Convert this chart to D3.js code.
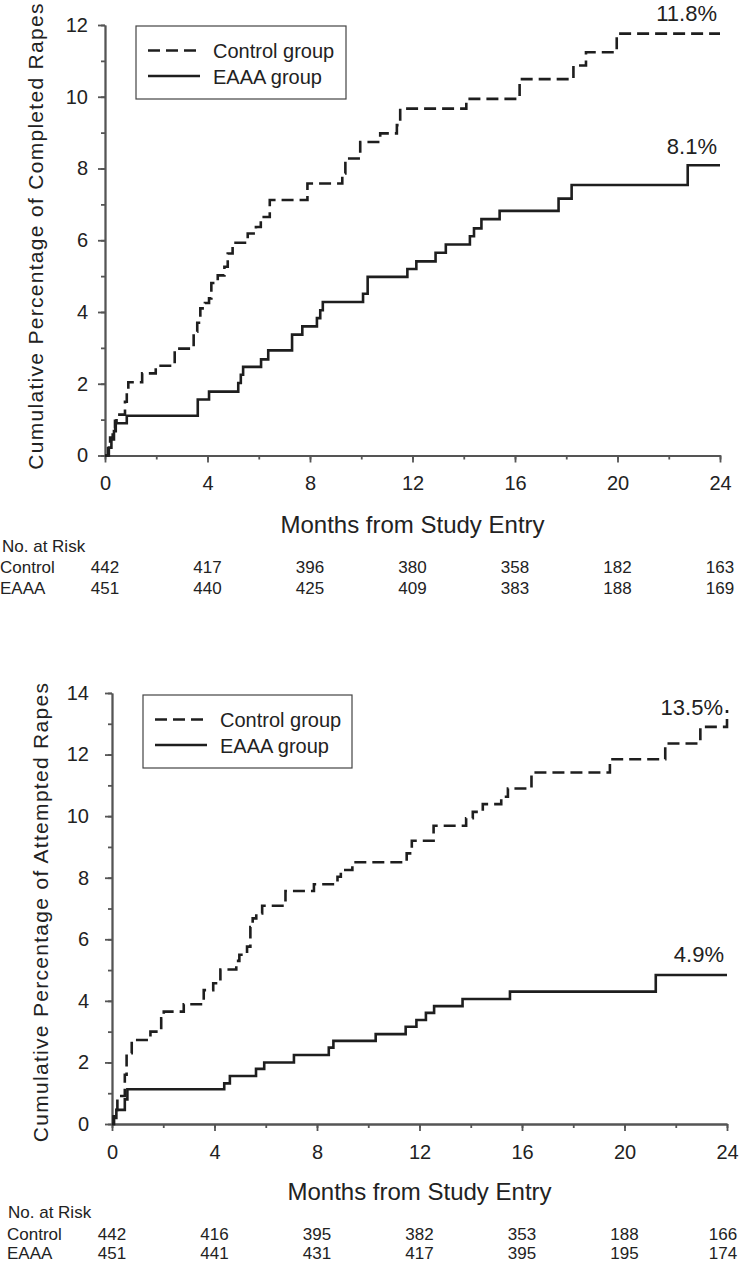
<!DOCTYPE html>
<html>
<head>
<meta charset="utf-8">
<script src="https://cdn.jsdelivr.net/npm/d3@7"></script>
<style>
  html, body { margin: 0; padding: 0; background: #fff; }
  svg { display: block; }
  text { font-family: "Liberation Sans", Arial, Helvetica, sans-serif; fill: #222; }
</style>
</head>
<body>
<svg id="chart" width="742" height="1263"></svg>
<script>
// ---------------- DATA ----------------
const riskMonths = [0, 4, 8, 12, 16, 20, 24];
const seriesNames = ["Control group", "EAAA group"];
const rowNames = ["Control", "EAAA"];

// Panel 1: completed rapes (time in months, cumulative %)
const p1ControlT = [0, 0.12, 0.2, 0.3, 0.39, 0.45, 0.78, 0.85, 0.91, 1.45, 1.98, 2.72, 3.46, 3.6, 3.72, 3.9, 4.06, 4.15, 4.4, 4.66, 4.79, 4.98, 5.57, 5.89, 6.08, 6.43, 7.9, 9.26, 9.38, 9.96, 10.74, 11.39, 11.52, 14.1, 16.18, 18.28, 18.77, 19.97, 24];
const p1ControlV = [0, 0.2, 0.5, 0.75, 0.97, 1.14, 1.5, 1.8, 2.04, 2.29, 2.5, 2.98, 3.45, 3.7, 4.1, 4.25, 4.38, 4.81, 5.02, 5.26, 5.63, 5.93, 6.19, 6.37, 6.65, 7.12, 7.58, 7.86, 8.28, 8.74, 8.98, 9.21, 9.67, 9.94, 10.49, 10.87, 11.24, 11.76, 11.76];
const p1EaaaT = [0, 0.15, 0.25, 0.35, 0.42, 0.85, 3.62, 4.06, 5.2, 5.3, 5.39, 6.09, 6.37, 7.3, 7.7, 8.27, 8.4, 8.5, 10.07, 10.25, 11.8, 12.15, 12.9, 13.3, 14.24, 14.4, 14.69, 15.4, 17.7, 18.21, 22.74, 24];
const p1EaaaV = [0, 0.22, 0.45, 0.68, 0.9, 1.11, 1.56, 1.78, 2.02, 2.25, 2.47, 2.68, 2.93, 3.37, 3.6, 3.83, 4.05, 4.28, 4.51, 4.98, 5.2, 5.41, 5.65, 5.88, 6.11, 6.33, 6.59, 6.82, 7.16, 7.54, 8.09, 8.09];
const p1RiskControl = [442, 417, 396, 380, 358, 182, 163];
const p1RiskEaaa = [451, 440, 425, 409, 383, 188, 169];
const p1EndLabels = ["11.8%", "8.1%"];
const p1YTitle = "Cumulative Percentage of Completed Rapes";
const p1YMax = 12;

// Panel 2: attempted rapes
const p2ControlT = [0, 0.06, 0.12, 0.21, 0.5, 0.57, 0.77, 1.5, 1.92, 2.02, 2.8, 3.58, 3.95, 4.23, 4.85, 4.97, 5.27, 5.4, 5.49, 5.63, 5.86, 6.77, 7.88, 8.8, 8.93, 9.38, 11.5, 11.7, 12.55, 13.82, 14.08, 14.47, 15.19, 15.45, 16.37, 19.43, 21.59, 22.96, 24];
const p2ControlV = [0, 0.25, 0.46, 0.91, 1.6, 2.3, 2.73, 3.0, 3.43, 3.65, 3.89, 4.35, 4.57, 5.02, 5.3, 5.5, 5.76, 6.4, 6.68, 6.84, 7.09, 7.57, 7.79, 8.03, 8.25, 8.5, 8.79, 9.2, 9.69, 9.93, 10.14, 10.39, 10.63, 10.9, 11.42, 11.85, 12.36, 12.9, 13.45];
const p2EaaaT = [0, 0.08, 0.17, 0.5, 0.6, 4.38, 4.6, 5.62, 5.94, 7.1, 8.46, 8.64, 10.29, 11.46, 11.88, 12.25, 12.57, 13.68, 15.53, 21.22, 24];
const p2EaaaV = [0, 0.2, 0.46, 0.8, 1.13, 1.32, 1.56, 1.79, 2.0, 2.24, 2.48, 2.7, 2.92, 3.16, 3.38, 3.61, 3.83, 4.06, 4.3, 4.84, 4.84];
const p2RiskControl = [442, 416, 395, 382, 353, 188, 166];
const p2RiskEaaa = [451, 441, 431, 417, 395, 195, 174];
const p2EndLabels = ["13.5%", "4.9%"];
const p2YTitle = "Cumulative Percentage of Attempted Rapes";
const p2YMax = 14;

// ---------------- LAYOUT ----------------
const panels = [
  { x0: 105, x1: 720, yTop: 25, yBot: 455.5, yMax: p1YMax,
    control: [p1ControlT, p1ControlV], eaaa: [p1EaaaT, p1EaaaV],
    risk: [p1RiskControl, p1RiskEaaa], ends: p1EndLabels, yTitle: p1YTitle,
    endOff: [[-3, -12.5], [-3, -11]], yLabelGap: 17, titleX: 43, titleY: 236,
    xLabBase: 490, xTitleBase: 533, riskHeadBase: 552, riskBase: [573, 594],
    headX: 2, rowX: 0,
    legend: { x: 136, y: 26, w: 210, h: 73 } },
  { x0: 112, x1: 727, yTop: 693, yBot: 1124, yMax: p2YMax,
    control: [p2ControlT, p2ControlV], eaaa: [p2EaaaT, p2EaaaV],
    risk: [p2RiskControl, p2RiskEaaa], ends: p2EndLabels, yTitle: p2YTitle,
    endOff: [[-4, 5], [-3, -13]], yLabelGap: 23, titleX: 48, titleY: 912,
    xLabBase: 1159, xTitleBase: 1200, riskHeadBase: 1218, riskBase: [1239.5, 1258.5],
    headX: 8, rowX: 7,
    legend: { x: 143, y: 695, w: 209, h: 73 } }
];

const svg = d3.select("#chart");
const ink = "#1e1e1e";
const axisCol = "#555";

panels.forEach(p => {
  const x = d3.scaleLinear().domain([0, 24]).range([p.x0, p.x1]);
  const y = d3.scaleLinear().domain([0, p.yMax]).range([p.yBot, p.yTop]);
  const g = svg.append("g");

  // Y axis: minor ticks each 1, major each 2
  const yMinor = d3.range(0, p.yMax + 1, 1);
  const yMajor = d3.range(0, p.yMax + 1, 2);
  const yAxMinor = g.append("g").attr("transform", `translate(${p.x0},0)`)
    .call(d3.axisLeft(y).tickValues(yMinor).tickSize(4).tickFormat("").tickSizeOuter(0));
  const yAxMajor = g.append("g").attr("transform", `translate(${p.x0},0)`)
    .call(d3.axisLeft(y).tickValues(yMajor).tickSize(7).tickPadding(p.yLabelGap - 7).tickSizeOuter(0));
  [yAxMinor, yAxMajor].forEach(a => {
    a.selectAll("path,line").attr("stroke", axisCol).attr("stroke-width", 1.8);
  });
  yAxMajor.selectAll("text").attr("font-size", 20).attr("fill", "#222")
    .style("font-family", '"Liberation Sans", Arial, sans-serif');

  // X axis: minor ticks each 2, major each 4
  const xMinor = d3.range(0, 25, 2);
  const xAxMinor = g.append("g").attr("transform", `translate(0,${p.yBot})`)
    .call(d3.axisBottom(x).tickValues(xMinor).tickSize(4).tickFormat("").tickSizeOuter(0));
  const xAxMajor = g.append("g").attr("transform", `translate(0,${p.yBot})`)
    .call(d3.axisBottom(x).tickValues(riskMonths).tickSize(7).tickSizeOuter(0));
  [xAxMinor, xAxMajor].forEach(a => {
    a.selectAll("path,line").attr("stroke", axisCol).attr("stroke-width", 1.8);
  });
  xAxMajor.selectAll("text").attr("font-size", 20).attr("fill", "#222")
    .attr("dy", null).attr("y", p.xLabBase - p.yBot)
    .style("font-family", '"Liberation Sans", Arial, sans-serif');

  // Curves
  const line = d3.line().x(d => x(d[0])).y(d => y(d[1])).curve(d3.curveStepAfter);
  const toPts = s => s[0].map((t, i) => [t, s[1][i]]);
  g.append("path").datum(toPts(p.control)).attr("d", line)
    .attr("fill", "none").attr("stroke", ink).attr("stroke-width", 2.6)
    .attr("stroke-dasharray", "12,6");
  g.append("path").datum(toPts(p.eaaa)).attr("d", line)
    .attr("fill", "none").attr("stroke", ink).attr("stroke-width", 2.6);

  // End labels
  const lastC = p.control[1][p.control[1].length - 1];
  const lastE = p.eaaa[1][p.eaaa[1].length - 1];
  [[lastC, p.ends[0], p.endOff[0]], [lastE, p.ends[1], p.endOff[1]]].forEach(([v, lab, off]) => {
    g.append("text").attr("x", x(24) + off[0]).attr("y", y(v) + off[1])
      .attr("text-anchor", "end").attr("font-size", 22).text(lab);
  });

  // Legend
  const L = p.legend;
  const lg = g.append("g").attr("transform", `translate(${L.x},${L.y})`);
  lg.append("rect").attr("width", L.w).attr("height", L.h)
    .attr("fill", "#fff").attr("stroke", "#444").attr("stroke-width", 1.2);
  lg.append("line").attr("x1", 12).attr("x2", 60).attr("y1", 24.5).attr("y2", 24.5)
    .attr("stroke", ink).attr("stroke-width", 2.6).attr("stroke-dasharray", "12,6");
  lg.append("line").attr("x1", 12).attr("x2", 64).attr("y1", 50).attr("y2", 50)
    .attr("stroke", ink).attr("stroke-width", 2.6);
  lg.append("text").attr("x", 77).attr("y", 32).attr("font-size", 20).text(seriesNames[0]);
  lg.append("text").attr("x", 77).attr("y", 57.5).attr("font-size", 20).text(seriesNames[1]);

  // Y title
  g.append("text")
    .attr("transform", `translate(${p.titleX},${p.titleY}) rotate(-90)`)
    .attr("text-anchor", "middle").attr("font-size", 21)
    .style("letter-spacing", "1.3px").text(p.yTitle);

  // X title
  g.append("text").attr("x", (p.x0 + p.x1) / 2).attr("y", p.xTitleBase)
    .attr("text-anchor", "middle").attr("font-size", 24).text("Months from Study Entry");

  // Risk table
  g.append("text").attr("x", p.headX).attr("y", p.riskHeadBase)
    .attr("font-size", 17).text("No. at Risk");
  p.risk.forEach((row, ri) => {
    g.append("text").attr("x", p.rowX).attr("y", p.riskBase[ri])
      .attr("font-size", 17).text(rowNames[ri]);
    g.selectAll(null).data(row).enter().append("text")
      .attr("x", (d, i) => Math.min(x(riskMonths[i]), 723))
      .attr("y", p.riskBase[ri])
      .attr("text-anchor", "middle").attr("font-size", 17)
      .text(d => d);
  });
});
</script>
</body>
</html>
